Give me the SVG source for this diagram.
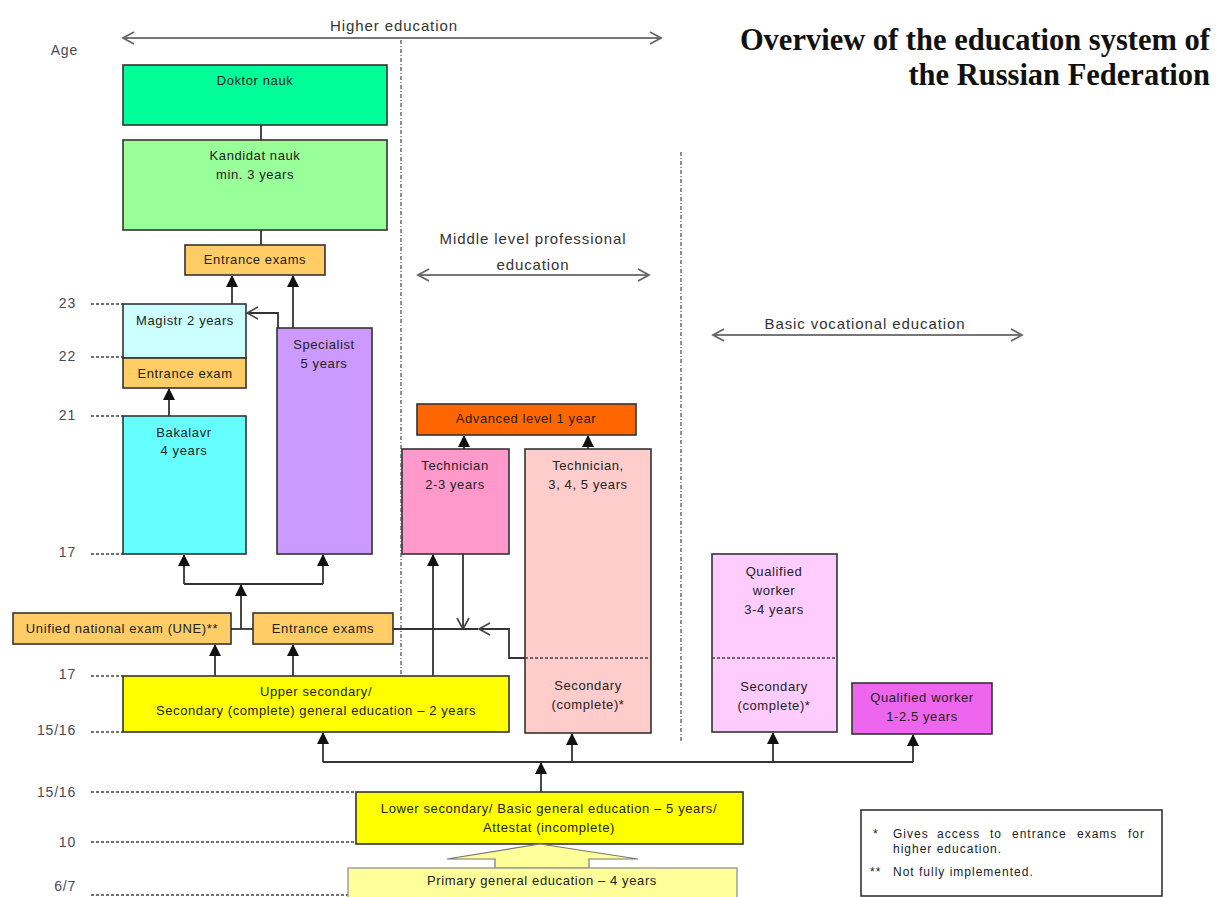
<svg xmlns="http://www.w3.org/2000/svg" width="1217" height="897" viewBox="0 0 1217 897">
<style>
.box{stroke:#333;stroke-width:1.6}
.t{font-family:"Liberation Sans",Arial,sans-serif;font-size:13px;letter-spacing:0.6px;fill:#222;text-anchor:middle;dominant-baseline:middle}
.age{font-family:"Liberation Sans",Arial,sans-serif;font-size:14px;letter-spacing:0.8px;fill:#4a4a55;text-anchor:end;dominant-baseline:middle}
.agel{stroke:#444;stroke-width:1.3;stroke-dasharray:3,2;fill:none}
.sep{stroke:#555;stroke-width:1.3;stroke-dasharray:4,2,1,2;fill:none}
.c{stroke:#333;stroke-width:1.8;fill:none}
.rng{stroke:#777;stroke-width:2;fill:none}
.lab{font-family:"Liberation Sans",Arial,sans-serif;font-size:15px;letter-spacing:0.9px;fill:#333;text-anchor:middle}
.title{font-family:"Liberation Serif","Times New Roman",serif;font-size:30.5px;font-weight:bold;fill:#111;text-anchor:end}
.leg{font-family:"Liberation Sans",Arial,sans-serif;font-size:12px;letter-spacing:1px;fill:#222}
</style>
<defs>
<marker id="fa" markerUnits="userSpaceOnUse" markerWidth="12" markerHeight="12" refX="11" refY="6" orient="auto"><path d="M0,0 L12,6 L0,12 z" fill="#111"/></marker>
<marker id="oa" markerUnits="userSpaceOnUse" markerWidth="14" markerHeight="14" refX="12" refY="7" orient="auto"><path d="M1,1 L12,7 L1,13" fill="none" stroke="#444" stroke-width="1.6"/></marker>
<marker id="ra" markerUnits="userSpaceOnUse" markerWidth="14" markerHeight="14" refX="12" refY="7" orient="auto-start-reverse"><path d="M1,1 L12,7 L1,13" fill="none" stroke="#666" stroke-width="1.8"/></marker>
</defs>
<rect width="1217" height="897" fill="#fff"/>

<g id="title">
<text class="title" x="1210" y="50">Overview of the education system of</text>
<text class="title" x="1210" y="85">the Russian Federation</text>
</g>

<g id="age-scale">
<text class="age" x="78" y="51">Age</text>
<text class="age" x="76" y="304">23</text>
<text class="age" x="76" y="357">22</text>
<text class="age" x="76" y="416">21</text>
<text class="age" x="76" y="553">17</text>
<text class="age" x="76" y="675">17</text>
<text class="age" x="76" y="731">15/16</text>
<text class="age" x="76" y="793">15/16</text>
<text class="age" x="76" y="843">10</text>
<text class="age" x="76" y="887">6/7</text>
<path class="agel" d="M91,304 H123 M91,357 H123 M91,416 H123 M91,554 H123 M91,676 H123 M91,732 H123 M91,792 H356 M91,842 H356 M91,895 H348"/>
</g>

<g id="ranges">
<path class="rng" d="M123,38 H661" marker-start="url(#ra)" marker-end="url(#ra)"/>
<text class="lab" x="394" y="31">Higher education</text>
<path class="rng" d="M418,275 H649" marker-start="url(#ra)" marker-end="url(#ra)"/>
<text class="lab" x="533" y="244">Middle level professional</text>
<text class="lab" x="533" y="270">education</text>
<path class="rng" d="M713,335 H1022" marker-start="url(#ra)" marker-end="url(#ra)"/>
<text class="lab" x="865" y="329">Basic vocational education</text>
<path class="sep" d="M401,40 V676"/>
<path class="sep" d="M681,152 V742"/>
</g>

<g id="connectors">
<path class="c" d="M261,125 V140 M261,230 V245"/>
<path class="c" d="M232,304 V276" marker-end="url(#fa)"/>
<path class="c" d="M293,328 V276" marker-end="url(#fa)"/>
<path class="c" d="M278,328 V313 H247" marker-end="url(#oa)"/>
<path class="c" d="M169,416 V389" marker-end="url(#fa)"/>
<path class="c" d="M231,629 H253"/>
<path class="c" d="M241,629 V585" marker-end="url(#fa)"/>
<path class="c" d="M184,584 H323"/>
<path class="c" d="M184,584 V555" marker-end="url(#fa)"/>
<path class="c" d="M323,584 V555" marker-end="url(#fa)"/>
<path class="c" d="M215,676 V645" marker-end="url(#fa)"/>
<path class="c" d="M293,676 V645" marker-end="url(#fa)"/>
<path class="c" d="M433,676 V555" marker-end="url(#fa)"/>
<path class="c" d="M463,554 V629" marker-end="url(#oa)"/>
<path class="c" d="M393,629 H478"/>
<path class="c" d="M525,658 H509 V629 H479" marker-end="url(#oa)"/>
<path class="c" d="M464,449 V436" marker-end="url(#fa)"/>
<path class="c" d="M588,449 V436" marker-end="url(#fa)"/>
<path class="c" d="M323,762 H913"/>
<path class="c" d="M541,792 V763" marker-end="url(#fa)"/>
<path class="c" d="M323,762 V733" marker-end="url(#fa)"/>
<path class="c" d="M572,762 V734" marker-end="url(#fa)"/>
<path class="c" d="M773,762 V733" marker-end="url(#fa)"/>
<path class="c" d="M913,762 V735" marker-end="url(#fa)"/>
</g>

<g id="doktor"><rect class="box" x="123" y="65" width="264" height="60" fill="#00FF99"/><text class="t" x="255" y="82">Doktor nauk</text></g>
<g id="kandidat"><rect class="box" x="123" y="140" width="264" height="90" fill="#99FF99"/><text class="t" x="255" y="157">Kandidat nauk</text><text class="t" x="255" y="176">min. 3 years</text></g>
<g id="entrance-exams-top"><rect class="box" x="185" y="245" width="140" height="30" fill="#FFCC66"/><text class="t" x="255" y="261">Entrance exams</text></g>
<g id="magistr"><rect class="box" x="123" y="304" width="123" height="54" fill="#CCFFFF"/><text class="t" x="185" y="322">Magistr 2 years</text></g>
<g id="entrance-exam-magistr"><rect class="box" x="123" y="358" width="123" height="30" fill="#FFCC66"/><text class="t" x="185" y="375">Entrance exam</text></g>
<g id="bakalavr"><rect class="box" x="123" y="416" width="123" height="138" fill="#66FFFF"/><text class="t" x="184" y="434">Bakalavr</text><text class="t" x="184" y="452">4 years</text></g>
<g id="specialist"><rect class="box" x="277" y="328" width="95" height="226" fill="#CC99FF"/><text class="t" x="324" y="346">Specialist</text><text class="t" x="324" y="365">5 years</text></g>
<g id="une"><rect class="box" x="13" y="613" width="218" height="31" fill="#FFCC66"/><text class="t" x="122" y="630">Unified national exam (UNE)**</text></g>
<g id="entrance-exams"><rect class="box" x="253" y="613" width="140" height="31" fill="#FFCC66"/><text class="t" x="323" y="630">Entrance exams</text></g>
<g id="advanced"><rect class="box" x="417" y="404" width="219" height="31" fill="#FF6600"/><text class="t" x="526" y="420">Advanced level 1 year</text></g>
<g id="technician-23"><rect class="box" x="402" y="449" width="107" height="105" fill="#FF99CC"/><text class="t" x="455" y="467">Technician</text><text class="t" x="455" y="486">2-3 years</text></g>
<g id="technician-345"><rect class="box" x="525" y="449" width="126" height="284" fill="#FFCCCC"/><path class="agel" d="M525,658 H651"/><text class="t" x="588" y="467">Technician,</text><text class="t" x="588" y="486">3, 4, 5 years</text><text class="t" x="588" y="687">Secondary</text><text class="t" x="588" y="706">(complete)*</text></g>
<g id="qualified-34"><rect class="box" x="712" y="554" width="125" height="178" fill="#FFCCFF"/><path class="agel" d="M712,658 H837"/><text class="t" x="774" y="573">Qualified</text><text class="t" x="774" y="592">worker</text><text class="t" x="774" y="611">3-4 years</text><text class="t" x="774" y="688">Secondary</text><text class="t" x="774" y="707">(complete)*</text></g>
<g id="qualified-125"><rect class="box" x="852" y="683" width="140" height="51" fill="#EE66EE"/><text class="t" x="922" y="699">Qualified worker</text><text class="t" x="922" y="718">1-2.5 years</text></g>
<g id="upper-secondary"><rect class="box" x="123" y="676" width="386" height="56" fill="#FFFF00"/><text class="t" x="316" y="693">Upper secondary/</text><text class="t" x="316" y="712">Secondary (complete) general education – 2 years</text></g>
<g id="lower-secondary"><rect class="box" x="356" y="792" width="387" height="52" fill="#FFFF00"/><text class="t" x="549" y="810">Lower secondary/ Basic general education – 5 years/</text><text class="t" x="549" y="829">Attestat (incomplete)</text></g>
<g id="primary-arrow"><polygon points="447,859 540,844 638,859 589,859 589,868 495,868 495,859" fill="#FFFF99" stroke="#777" stroke-width="1.2"/></g>
<g id="primary"><rect x="348" y="868" width="389" height="34" fill="#FFFF99" stroke="#999" stroke-width="1.4"/><text class="t" x="542" y="882">Primary general education – 4 years</text></g>

<g id="legend">
<rect x="861" y="810" width="301" height="86" fill="#fff" stroke="#333" stroke-width="1.6"/>
<text class="leg" x="873" y="838">*</text>
<text class="leg" y="838"><tspan x="893">Gives</tspan><tspan x="937">access</tspan><tspan x="990">to</tspan><tspan x="1012">entrance</tspan><tspan x="1077">exams</tspan><tspan x="1128">for</tspan></text>
<text class="leg" x="893" y="853">higher education.</text>
<text class="leg" x="870" y="876">**</text>
<text class="leg" x="893" y="876">Not fully implemented.</text>
</g>
</svg>
